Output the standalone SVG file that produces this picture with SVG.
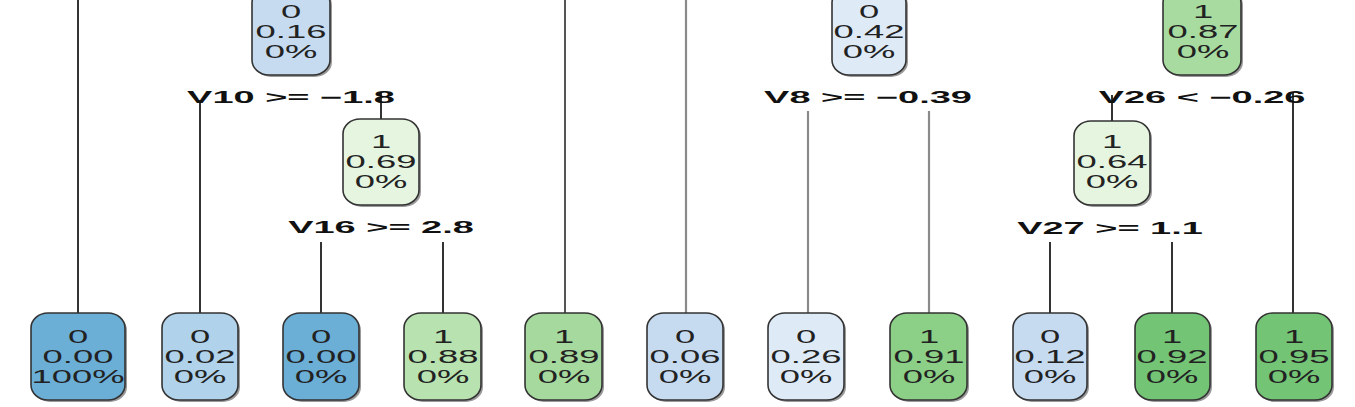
<svg xmlns="http://www.w3.org/2000/svg" width="1355" height="407" viewBox="0 0 1355 407">
<style>
.bx{stroke:#333;stroke-width:1.6}
.sh{fill:#9a9a9a}
.nt{font-family:"Liberation Sans",Arial,sans-serif;font-size:17.5px;fill:#222;text-anchor:middle}
.lb{font-family:"Liberation Sans",Arial,sans-serif;font-size:16.5px;font-weight:bold;fill:#111;text-anchor:middle}
.dk{stroke:#333;stroke-width:2}
.md{stroke:#555;stroke-width:2}
.lt{stroke:#8a8a8a;stroke-width:2.2}
</style>
<rect width="1355" height="407" fill="#fff"/>
<g id="connectors" fill="none">
<line class="dk" x1="78" y1="0" x2="78" y2="313"/>
<line class="dk" x1="200" y1="100" x2="200" y2="313"/>
<line class="dk" x1="381" y1="93" x2="381" y2="119"/>
<line class="dk" x1="321" y1="242" x2="321" y2="313"/>
<line class="dk" x1="443" y1="242" x2="443" y2="313"/>
<line class="md" x1="565" y1="0" x2="565" y2="313"/>
<line class="lt" x1="686" y1="0" x2="686" y2="313"/>
<line class="lt" x1="808" y1="111" x2="808" y2="313"/>
<line class="lt" x1="929" y1="111" x2="929" y2="313"/>
<line class="dk" x1="1112" y1="95" x2="1112" y2="121"/>
<line class="dk" x1="1293" y1="92" x2="1293" y2="313"/>
<line class="dk" x1="1050" y1="242" x2="1050" y2="313"/>
<line class="dk" x1="1172" y1="242" x2="1172" y2="313"/>
</g>
<g id="labels">
<text class="lb" transform="translate(291,103) scale(2.3,1)">V10 &gt;= −1.8</text>
<text class="lb" transform="translate(381,233) scale(2.3,1)">V16 &gt;= 2.8</text>
<text class="lb" transform="translate(868,103) scale(2.3,1)">V8 &gt;= −0.39</text>
<text class="lb" transform="translate(1202,103) scale(2.3,1)">V26 &lt; −0.26</text>
<text class="lb" transform="translate(1110,234) scale(2.3,1)">V27 &gt;= 1.1</text>
</g>
<g id="n_016">
<rect class="sh" x="254" y="-10" width="78" height="87" rx="17" ry="15"/>
<rect class="bx" x="252" y="-12" width="78" height="87" rx="17" ry="15" fill="#c6dbef"/>
<g transform="translate(291,0) scale(2.08,1)"><text class="nt" y="18">0</text><text class="nt" y="38">0.16</text><text class="nt" y="58">0%</text></g>
</g>
<g id="n_042">
<rect class="sh" x="834" y="-10" width="74" height="87" rx="17" ry="15"/>
<rect class="bx" x="832" y="-12" width="74" height="87" rx="17" ry="15" fill="#deebf7"/>
<g transform="translate(869,0) scale(2.08,1)"><text class="nt" y="18">0</text><text class="nt" y="38">0.42</text><text class="nt" y="58">0%</text></g>
</g>
<g id="n_087">
<rect class="sh" x="1165" y="-10" width="78" height="87" rx="17" ry="15"/>
<rect class="bx" x="1163" y="-12" width="78" height="87" rx="17" ry="15" fill="#a8dba0"/>
<g transform="translate(1203,0) scale(2.08,1)"><text class="nt" y="18">1</text><text class="nt" y="38">0.87</text><text class="nt" y="58">0%</text></g>
</g>
<g id="n_069">
<rect class="sh" x="345" y="121" width="76" height="86" rx="17" ry="15"/>
<rect class="bx" x="343" y="119" width="76" height="86" rx="17" ry="15" fill="#e5f5e0"/>
<g transform="translate(381,0) scale(2.08,1)"><text class="nt" y="148">1</text><text class="nt" y="168">0.69</text><text class="nt" y="188">0%</text></g>
</g>
<g id="n_064">
<rect class="sh" x="1076" y="123" width="76" height="84" rx="17" ry="15"/>
<rect class="bx" x="1074" y="121" width="76" height="84" rx="17" ry="15" fill="#e5f5e0"/>
<g transform="translate(1112,0) scale(2.08,1)"><text class="nt" y="148">1</text><text class="nt" y="168">0.64</text><text class="nt" y="188">0%</text></g>
</g>
<g id="leaf1">
<rect class="sh" x="33" y="315" width="94" height="87" rx="17" ry="15"/>
<rect class="bx" x="31" y="313" width="94" height="87" rx="17" ry="15" fill="#6baed6"/>
<g transform="translate(78,0) scale(2.08,1)"><text class="nt" y="343">0</text><text class="nt" y="363">0.00</text><text class="nt" y="383">100%</text></g>
</g>
<g id="leaf2">
<rect class="sh" x="164" y="315" width="76" height="87" rx="17" ry="15"/>
<rect class="bx" x="162" y="313" width="76" height="87" rx="17" ry="15" fill="#b0d2ea"/>
<g transform="translate(200,0) scale(2.08,1)"><text class="nt" y="343">0</text><text class="nt" y="363">0.02</text><text class="nt" y="383">0%</text></g>
</g>
<g id="leaf3">
<rect class="sh" x="285" y="315" width="76" height="87" rx="17" ry="15"/>
<rect class="bx" x="283" y="313" width="76" height="87" rx="17" ry="15" fill="#6baed6"/>
<g transform="translate(321,0) scale(2.08,1)"><text class="nt" y="343">0</text><text class="nt" y="363">0.00</text><text class="nt" y="383">0%</text></g>
</g>
<g id="leaf4">
<rect class="sh" x="406" y="315" width="77" height="87" rx="17" ry="15"/>
<rect class="bx" x="404" y="313" width="77" height="87" rx="17" ry="15" fill="#b8e2b0"/>
<g transform="translate(443,0) scale(2.08,1)"><text class="nt" y="343">1</text><text class="nt" y="363">0.88</text><text class="nt" y="383">0%</text></g>
</g>
<g id="leaf5">
<rect class="sh" x="527" y="315" width="77" height="87" rx="17" ry="15"/>
<rect class="bx" x="525" y="313" width="77" height="87" rx="17" ry="15" fill="#a6d99e"/>
<g transform="translate(564,0) scale(2.08,1)"><text class="nt" y="343">1</text><text class="nt" y="363">0.89</text><text class="nt" y="383">0%</text></g>
</g>
<g id="leaf6">
<rect class="sh" x="649" y="315" width="76" height="87" rx="17" ry="15"/>
<rect class="bx" x="647" y="313" width="76" height="87" rx="17" ry="15" fill="#c6dbef"/>
<g transform="translate(685,0) scale(2.08,1)"><text class="nt" y="343">0</text><text class="nt" y="363">0.06</text><text class="nt" y="383">0%</text></g>
</g>
<g id="leaf7">
<rect class="sh" x="770" y="315" width="76" height="87" rx="17" ry="15"/>
<rect class="bx" x="768" y="313" width="76" height="87" rx="17" ry="15" fill="#deebf7"/>
<g transform="translate(806,0) scale(2.08,1)"><text class="nt" y="343">0</text><text class="nt" y="363">0.26</text><text class="nt" y="383">0%</text></g>
</g>
<g id="leaf8">
<rect class="sh" x="892" y="315" width="77" height="87" rx="17" ry="15"/>
<rect class="bx" x="890" y="313" width="77" height="87" rx="17" ry="15" fill="#8ccf86"/>
<g transform="translate(929,0) scale(2.08,1)"><text class="nt" y="343">1</text><text class="nt" y="363">0.91</text><text class="nt" y="383">0%</text></g>
</g>
<g id="leaf9">
<rect class="sh" x="1015" y="315" width="74" height="87" rx="17" ry="15"/>
<rect class="bx" x="1013" y="313" width="74" height="87" rx="17" ry="15" fill="#c6dbef"/>
<g transform="translate(1050,0) scale(2.08,1)"><text class="nt" y="343">0</text><text class="nt" y="363">0.12</text><text class="nt" y="383">0%</text></g>
</g>
<g id="leaf10">
<rect class="sh" x="1137" y="315" width="75" height="87" rx="17" ry="15"/>
<rect class="bx" x="1135" y="313" width="75" height="87" rx="17" ry="15" fill="#74c476"/>
<g transform="translate(1172,0) scale(2.08,1)"><text class="nt" y="343">1</text><text class="nt" y="363">0.92</text><text class="nt" y="383">0%</text></g>
</g>
<g id="leaf11">
<rect class="sh" x="1258" y="315" width="76" height="87" rx="17" ry="15"/>
<rect class="bx" x="1256" y="313" width="76" height="87" rx="17" ry="15" fill="#74c476"/>
<g transform="translate(1294,0) scale(2.08,1)"><text class="nt" y="343">1</text><text class="nt" y="363">0.95</text><text class="nt" y="383">0%</text></g>
</g>
</svg>
